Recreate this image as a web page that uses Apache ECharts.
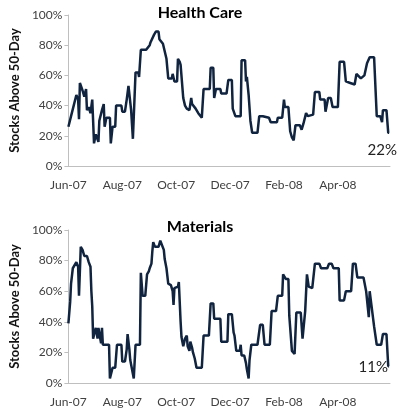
<!DOCTYPE html>
<html>
<head>
    <meta charset="utf-8">
    <title>Stocks Above 50-Day</title>
    <script src="https://cdn.jsdelivr.net/npm/echarts@6/dist/echarts.min.js"></script>
    <style>
        body { margin: 0; background: #fff; }
        #chart { width: 400px; height: 410px; }
    </style>
</head>
<body>
<div id="chart"></div>
<script>
    // x = days since 1 Jun 2007
    var tickDays = [0, 61, 122, 183, 244, 305];
    var tickLabels = ['Jun-07', 'Aug-07', 'Oct-07', 'Dec-07', 'Feb-08', 'Apr-08'];
    var yTicks = [0, 20, 40, 60, 80, 100];

    // Health Care
    var hcDays = [0, 3, 6, 9, 11, 12, 13, 16, 18, 20, 21, 23, 25, 27, 29, 31, 32, 34, 35, 38, 40, 41, 43, 47, 48, 50, 53, 54, 60, 61, 64, 66, 68, 69, 71, 73, 76, 79, 80, 82, 88, 92, 93, 95, 97, 99, 102, 103, 107, 109, 111, 113, 117, 118, 120, 123, 124, 126, 127, 129, 130, 132, 134, 137, 139, 140, 142, 144, 147, 149, 151, 153, 160, 161, 164, 165, 167, 172, 173, 179, 181, 185, 186, 188, 189, 195, 196, 200, 201, 202, 204, 206, 208, 214, 216, 220, 221, 227, 229, 236, 237, 242, 244, 245, 249, 251, 253, 255, 257, 262, 264, 266, 269, 271, 277, 279, 284, 285, 290, 291, 293, 294, 297, 299, 305, 307, 312, 314, 319, 324, 326, 328, 331, 333, 335, 338, 341, 346, 349, 353, 355, 356, 360, 362, 363];
    var hcPct = [26, 33, 40, 47, 44, 31, 55, 50, 46, 51, 37, 39, 35, 44, 15, 21, 22, 16, 30, 37, 41, 26, 32, 32, 15, 26, 26, 40, 40, 36, 36, 44, 53, 53, 37, 18, 62, 62, 59, 77, 77, 80, 82, 83, 87, 89, 89, 84, 81, 80, 71, 58, 58, 61, 56, 56, 71, 69, 67, 66, 45, 40, 38, 37, 45, 41, 40, 38, 35, 34, 32, 51, 51, 65, 65, 45, 51, 51, 48, 48, 57, 57, 38, 37, 33, 33, 70, 70, 56, 59, 47, 30, 22, 22, 33, 33, 32, 32, 29, 29, 32, 32, 44, 39, 39, 23, 19, 17, 27, 27, 24, 28, 35, 33, 34, 49, 49, 44, 44, 36, 36, 45, 45, 39, 39, 69, 69, 56, 55, 54, 61, 60, 58, 57, 60, 68, 72, 72, 33, 33, 29, 37, 37, 22, 22];

    // Materials
    var matDays = [0, 2, 3, 5, 7, 9, 11, 12, 14, 16, 18, 21, 23, 25, 26, 27, 28, 30, 31, 33, 34, 36, 37, 38, 39, 46, 47, 49, 50, 53, 55, 60, 61, 64, 66, 67, 69, 70, 72, 74, 76, 81, 82, 84, 87, 89, 91, 92, 94, 95, 96, 98, 102, 104, 106, 108, 109, 111, 113, 116, 118, 119, 120, 124, 125, 126, 127, 128, 130, 132, 134, 135, 137, 138, 140, 141, 143, 145, 151, 153, 159, 161, 164, 165, 172, 173, 180, 181, 185, 187, 188, 190, 194, 195, 196, 199, 201, 202, 204, 205, 207, 214, 217, 220, 222, 228, 230, 235, 237, 242, 243, 246, 249, 250, 253, 256, 258, 263, 265, 266, 268, 270, 272, 276, 279, 284, 286, 293, 295, 298, 300, 306, 307, 312, 314, 320, 322, 325, 327, 334, 337, 340, 341, 343, 346, 349, 354, 356, 360, 362, 363];
    var matPct = [39, 53, 65, 75, 76, 79, 76, 57, 89, 87, 83, 83, 79, 76, 60, 50, 29, 34, 36, 29, 36, 35, 26, 36, 25, 25, 3, 3, 10, 10, 25, 25, 14, 14, 22, 32, 22, 15, 9, 3, 25, 25, 72, 57, 57, 71, 73, 75, 78, 86, 92, 89, 89, 93, 93, 87, 81, 75, 65, 64, 60, 51, 62, 63, 66, 53, 40, 30, 24, 29, 31, 24, 21, 27, 23, 20, 16, 10, 10, 31, 31, 52, 52, 42, 42, 27, 27, 45, 45, 33, 31, 21, 21, 25, 18, 18, 13, 9, 3, 15, 25, 25, 38, 38, 25, 25, 47, 47, 57, 57, 71, 68, 68, 44, 21, 19, 46, 46, 29, 29, 47, 71, 63, 62, 78, 78, 75, 75, 78, 78, 75, 75, 54, 54, 60, 60, 78, 78, 69, 69, 60, 43, 60, 60, 37, 25, 25, 32, 32, 11, 11];

    var lineColor = '#10233f';
    var font = 'Lato, "Open Sans", sans-serif';

    function pairs(days, vals) {
        return days.map(function (d, i) { return [d, vals[i]]; });
    }

    function xAxisFor(idx) {
        return {
            type: 'value', gridIndex: idx, min: 0, max: 364, interval: 61,
            axisLine: { lineStyle: { color: '#bfbfbf', width: 1 } },
            axisTick: { show: false },
            splitLine: { show: false },
            axisLabel: {
                color: '#404040', fontFamily: font, fontSize: 12, margin: 13,
                formatter: function (v) {
                    var i = tickDays.indexOf(v);
                    return i < 0 ? '' : tickLabels[i];
                }
            }
        };
    }

    function yAxisFor(idx) {
        return {
            type: 'value', gridIndex: idx, min: yTicks[0], max: yTicks[yTicks.length - 1], interval: 20,
            name: 'Stocks Above 50-Day', nameLocation: 'middle', nameGap: 40,
            nameTextStyle: { color: '#111', fontFamily: font, fontSize: 13, fontWeight: 'bold' },
            axisLine: { show: true, lineStyle: { color: '#bfbfbf', width: 1 } },
            axisTick: { show: true, length: 4, lineStyle: { color: '#bfbfbf' } },
            splitLine: { show: false },
            axisLabel: { color: '#404040', fontFamily: font, fontSize: 12, margin: 6, formatter: '{value}%' }
        };
    }

    var chart = echarts.init(document.getElementById('chart'));
    var option = {
        animation: false,
        title: [
            { text: 'Health Care', left: 'center', top: 0,
              textStyle: { fontFamily: font, fontSize: 16, fontWeight: 'bold', color: '#000' } },
            { text: 'Materials', left: 'center', top: 214,
              textStyle: { fontFamily: font, fontSize: 16, fontWeight: 'bold', color: '#000' } }
        ],
        grid: [
            { left: 49, right: 10, top: 15, height: 151 },
            { left: 49, right: 10, top: 230, height: 153 }
        ],
        xAxis: [xAxisFor(0), xAxisFor(1)],
        yAxis: [yAxisFor(0), yAxisFor(1)],
        series: [
            {
                type: 'line', xAxisIndex: 0, yAxisIndex: 0, showSymbol: false,
                data: pairs(hcDays, hcPct),
                lineStyle: { color: lineColor, width: 2.5 }
            },
            {
                type: 'line', xAxisIndex: 1, yAxisIndex: 1, showSymbol: false,
                data: pairs(matDays, matPct),
                lineStyle: { color: lineColor, width: 2.5 }
            }
        ],
        graphic: [
            { type: 'text', right: 3, top: 143,
              style: { text: hcPct[hcPct.length - 1] + '%', font: '15px ' + font, fill: '#222' } },
            { type: 'text', right: 12, top: 360,
              style: { text: matPct[matPct.length - 1] + '%', font: '15px ' + font, fill: '#222' } }
        ]
    };
    chart.setOption(option);
</script>
</body>
</html>
